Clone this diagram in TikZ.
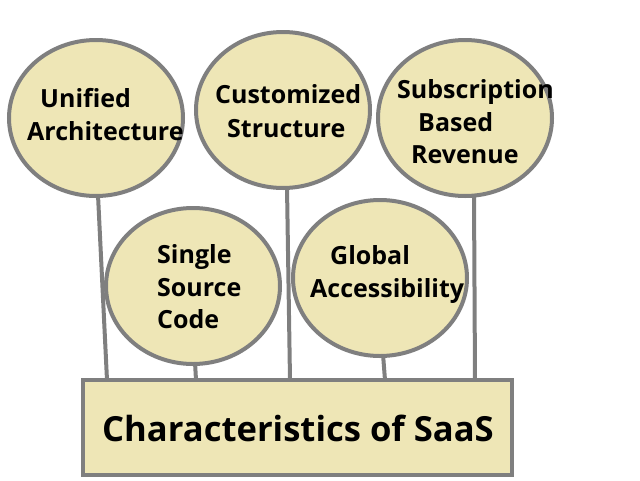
\documentclass[tikz,border=0pt]{standalone}
\usepackage{fontspec}
\setmainfont{Open Sans}
\usetikzlibrary{shapes.geometric,backgrounds}
\definecolor{bubblefill}{HTML}{EEE6B6}
\definecolor{edgegray}{HTML}{7F7F7F}
\tikzset{
  bubble/.style={ellipse,draw=edgegray,fill=bubblefill,line width=4pt,minimum width=174pt,minimum height=156pt,inner sep=0pt},
  word/.style={anchor=base west,inner sep=0pt,font=\fontsize{25}{29}\selectfont\bfseries},
  titlebox/.style={draw=edgegray,fill=bubblefill,line width=4pt,minimum width=429pt,minimum height=95pt,inner sep=0pt},
  titleword/.style={anchor=base west,inner sep=0pt,font=\fontsize{34.6}{40}\selectfont\bfseries},
  link/.style={draw=edgegray,line width=4pt}
}
\begin{document}
\begin{tikzpicture}[x=1pt,y=-1pt]
\useasboundingbox (0,0) rectangle (640,480);
% bubbles
\node[bubble] (c1) at (96,118) {};
\node[bubble] (c2) at (283,110) {};
\node[bubble] (c3) at (465,118) {};
\node[bubble] (c4) at (193,286) {};
\node[bubble] (c5) at (380,278) {};
\node[titlebox] (box) at (297.5,427.5) {};
% connector end points on the box top
\coordinate (e1) at (107,380);
\coordinate (e2) at (290,380);
\coordinate (e3) at (475,380);
\coordinate (e4) at (196,380);
\coordinate (e5) at (385,380);
\coordinate (s1) at (98,195);
\coordinate (s2) at (287,187);
\coordinate (s3) at (474,195);
\coordinate (s4) at (195,362);
\coordinate (s5) at (383,354);
\begin{scope}[on background layer]
\draw[link] (s1) -- (e1);
\draw[link] (s2) -- (e2);
\draw[link] (s3) -- (e3);
\draw[link] (s4) -- (e4);
\draw[link] (s5) -- (e5);
\end{scope}
% texts
\node[word] (t1a) at (40,107) {Unified};
\node[word] (t1b) at (27,140) {Architecture};
\node[word] (t2a) at (215,103) {Customized};
\node[word] (t2b) at (227,137) {Structure};
\node[word] (t3a) at (397,98) {Subscription};
\node[word] (t3b) at (418,131) {Based};
\node[word] (t3c) at (411,163) {Revenue};
\node[word] (t4a) at (157,263) {Single};
\node[word] (t4b) at (157,296) {Source};
\node[word] (t4c) at (157,328) {Code};
\node[word] (t5a) at (330,264) {Global};
\node[word] (t5b) at (310,297) {Accessibility};
\node[titleword] (tt) at (102,441) {Characteristics of SaaS};
\end{tikzpicture}
\end{document}
